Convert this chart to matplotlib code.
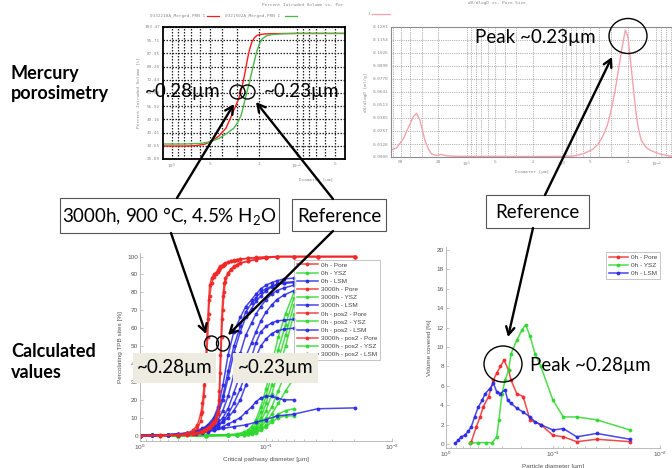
import matplotlib
matplotlib.use("Agg")
import matplotlib.pyplot as plt
from matplotlib.patches import Ellipse, Rectangle
from matplotlib.ticker import FixedLocator, FixedFormatter, NullFormatter

W, H = 672, 468

# ---------------- data: mercury porosimetry, intruded volume ----------------
hg_d_red = [1.18, 0.8, 0.65, 0.55, 0.48, 0.42, 0.37, 0.34, 0.31, 0.29, 0.28, 0.27,
            0.26, 0.25, 0.24, 0.23, 0.22, 0.21, 0.2, 0.18, 0.15, 0.1, 0.0413]
hg_v_red = [33.5, 33.5, 33.7, 34.5, 36.5, 39.5, 44, 50, 57, 62, 66, 71,
            77, 84, 90, 94.5, 97, 98.4, 99, 99.4, 99.6, 99.7, 99.7]
hg_d_green = [1.18, 0.8, 0.6, 0.5, 0.42, 0.36, 0.32, 0.3, 0.28, 0.27, 0.26, 0.25,
              0.24, 0.23, 0.22, 0.21, 0.2, 0.19, 0.175, 0.16, 0.13, 0.1, 0.0413]
hg_v_green = [34.7, 34.7, 35, 35.9, 38, 41.2, 44, 47, 51.5, 56, 61, 66,
              71, 77, 83, 89, 93.5, 96.5, 98.3, 99, 99.5, 99.7, 99.7]
hg_yticks = [25.89, 33.65, 41.41, 49.16, 56.92, 64.68, 72.44, 80.20, 87.95, 95.71, 103.47]
hg_ytick_labels = ["25.89", "33.65", "41.41", "49.16", "56.92", "64.68",
                   "72.44", "80.20", "87.95", "95.71", "103.47"]
hg_xticks = [1, 0.5, 0.2, 0.1, 0.05]
hg_xtick_labels = ["10$^{0}$", "5", "2", "10$^{-1}$", "5"]
hg_names = ["0332210A_Merged.PRN 1", "0321502A_Merged.PRN 1"]

# ---------------- data: mercury porosimetry, dV/dlogD ----------------
psd_d = [63, 55, 50.7, 46, 43.3, 39.5, 36.7, 33.8, 31.3, 29.5, 27.7, 25.5, 23.5, 21,
         18.5, 16.5, 14, 10, 5, 2, 1, 0.77, 0.7, 0.58, 0.47, 0.41, 0.37, 0.33, 0.3,
         0.275, 0.255, 0.238, 0.226, 0.213, 0.2, 0.185, 0.174, 0.164, 0.155, 0.145,
         0.13, 0.118, 0.093, 0.073, 0.05]
psd_v = [0.0069, 0.009, 0.0135, 0.019, 0.0249, 0.033, 0.0397, 0.043, 0.0365, 0.027,
         0.0168, 0.008, 0.003, 0.0015, 0.0025, 0.0012, 0.0008, 0.0006, 0.0006, 0.0005,
         0.0006, 0.0009, 0.0015, 0.0035, 0.0076, 0.013, 0.02, 0.031, 0.0463, 0.064,
         0.0825, 0.1, 0.112, 0.125, 0.1185, 0.089, 0.065, 0.043, 0.028, 0.0168, 0.01,
         0.0069, 0.003, 0.001, 0.0005]
psd_yticks = [0.0, 0.0128, 0.0257, 0.0385, 0.0513, 0.0641, 0.0770, 0.0898, 0.1026, 0.1154, 0.1281]
psd_ytick_labels = ["0.0000", "0.0128", "0.0257", "0.0385", "0.0513", "0.0641",
                    "0.0770", "0.0898", "0.1026", "0.1154", "0.1281"]
psd_xticks = [50, 20, 10, 5, 2, 1, 0.5, 0.2, 0.1, 0.05]
psd_xtick_labels = ["50", "20", "10$^{1}$", "5", "2", "10$^{0}$", "5", "2", "10$^{-1}$", "5"]

# ---------------- data: calculated percolating TPB sites ----------------
calc_d_pore = [1.0, 0.7, 0.5, 0.42, 0.38, 0.35, 0.33, 0.32, 0.31, 0.30, 0.29, 0.285,
               0.28, 0.27, 0.26, 0.25, 0.24, 0.235, 0.23, 0.225, 0.22, 0.215, 0.21,
               0.2, 0.19, 0.18, 0.17, 0.16, 0.14, 0.12, 0.1, 0.082, 0.06, 0.039, 0.0195]
pore_0h = [0, 0, 0.2, 0.5, 1, 1.5, 2.2, 2.7, 3.2, 3.8, 4.5, 5, 5.5, 6.5, 8, 10, 14, 25,
           45, 65, 78, 85, 88, 91, 93, 94.5, 95.5, 96.5, 97.5, 98.5, 99.3, 100, 100, 100, 100]
pore_3000h = [0, 0.2, 0.5, 1.5, 3, 6, 12, 18, 28, 45, 65, 76, 84, 88, 90, 91, 92.5, 93.5,
              94.5, 95, 95.5, 96, 96.5, 97, 97.5, 98, 98.3, 98.6, 99, 99.5, 99.8, 100, 100, 100, 100]
pore_0h_pos2 = [0, 0, 0.1, 0.3, 0.7, 1.2, 1.8, 2.2, 2.7, 3.3, 4, 4.5, 5, 6, 7, 9, 12, 20,
                35, 55, 70, 80, 86, 90, 92.5, 94, 95.3, 96.3, 97.3, 98.3, 99.2, 100, 100, 100, 100]
pore_3000h_pos2 = [0, 0.1, 0.4, 1, 2, 4, 8, 13, 22, 36, 55, 68, 78, 85, 88.5, 90, 91.5,
                   92.5, 93.5, 94.5, 95, 95.5, 96, 96.8, 97.3, 97.8, 98.2, 98.5, 99, 99.4,
                   99.7, 100, 100, 100, 100]

calc_d_lsm = [1.0, 0.8, 0.6, 0.5, 0.42, 0.36, 0.32, 0.29, 0.26, 0.24, 0.22, 0.2, 0.18,
              0.16, 0.145, 0.13, 0.12, 0.11, 0.1, 0.09, 0.082, 0.072, 0.06]
lsm_0h = [0, 0.3, 0.6, 1, 1.5, 2.5, 4, 6, 10, 16, 28, 45, 58, 66, 72, 76, 79, 82, 84, 85.5, 86.5, 87.5, 88]
lsm_3000h = [0, 0.2, 0.5, 0.8, 1.3, 2, 3, 5, 8, 12, 20, 32, 46, 58, 66, 71, 75, 78, 81, 83, 84.5, 85.5, 86]
lsm_0h_pos2 = [0, 0.2, 0.4, 0.7, 1, 1.8, 2.7, 4, 6, 9, 14, 22, 34, 46, 56, 63, 68, 72, 76, 79, 81, 82.5, 84]
lsm_3000h_pos2 = [0, 0.1, 0.3, 0.6, 0.9, 1.5, 2.3, 3.5, 5, 7, 10, 15, 24, 34, 44, 52, 58, 64, 69, 73, 76, 78.5, 81]
lsm_extra_a = [0, 0.1, 0.3, 0.5, 0.8, 1.3, 2, 3, 4.5, 6, 8, 12, 18, 26, 35, 44, 52, 58, 61, 63, 64, 64.5, 65]
lsm_extra_b = [0, 0.1, 0.2, 0.5, 0.8, 1.2, 1.8, 2.8, 4, 5.5, 7.5, 10, 14, 20, 28, 36, 44, 50, 54, 57, 58.5, 59.5, 60]
lsm_extra_c = [0, 0.1, 0.2, 0.4, 0.7, 1, 1.5, 2.2, 3, 4, 5, 6.5, 8, 10, 13, 16, 19, 21, 22, 22, 21, 20, 20]
lsm_extra_d = [0, 0.2, 0.5, 0.9, 1.4, 2.2, 3.5, 5.5, 9, 14, 22, 36, 50, 61, 69, 74, 77, 80, 82, 83.5, 84.5, 85, 85.5]
calc_d_lsm_long = [1.0, 0.6, 0.42, 0.32, 0.26, 0.22, 0.18, 0.145, 0.12, 0.1, 0.082, 0.06, 0.039, 0.0195]
lsm_long = [0, 0.3, 0.8, 2, 3, 4, 5, 6, 7.5, 9, 11, 12, 15, 15.5]

calc_d_ysz = [1.0, 0.5, 0.3, 0.2, 0.17, 0.15, 0.14, 0.13, 0.12, 0.11, 0.1, 0.09, 0.08, 0.07, 0.06]
ysz_0h = [0, 0, 0.2, 0.5, 1, 2, 3, 5, 9, 16, 26, 40, 55, 68, 80]
ysz_3000h = [0, 0, 0.1, 0.3, 0.6, 1.2, 2, 3.5, 7, 13, 22, 34, 48, 62, 77]
ysz_0h_pos2 = [0, 0, 0.1, 0.3, 0.5, 1, 1.6, 2.8, 5, 10, 18, 28, 42, 56, 73]
ysz_3000h_pos2 = [0, 0, 0, 0.2, 0.4, 0.8, 1.3, 2.2, 4, 8, 14, 23, 36, 50, 68]
ysz_extra_a = [0, 0, 0, 0.2, 0.4, 0.7, 1.1, 1.8, 3, 6, 10, 16, 25, 35, 45]
ysz_extra_b = [0, 0, 0, 0.1, 0.3, 0.5, 0.9, 1.5, 2.5, 5, 8, 12, 18, 25, 32]
ysz_extra_c = [0, 0, 0, 0.1, 0.3, 0.5, 0.8, 1.3, 2, 3.5, 6, 9, 12, 14, 15]
ysz_extra_d = [0, 0, 0, 0.1, 0.2, 0.4, 0.7, 1.1, 1.7, 3, 5, 7.5, 10, 11, 11]

# ---------------- data: calculated volume covered ----------------
vol_d_pore = [0.6, 0.58, 0.52, 0.48, 0.45, 0.4, 0.36, 0.336, 0.31, 0.287, 0.26, 0.247,
              0.218, 0.19, 0.164, 0.13, 0.1, 0.08, 0.06, 0.039, 0.019]
vol_pore = [0.1, 0.25, 1.8, 2.8, 3.8, 4.9, 6.6, 7.3, 8.0, 8.66, 7.6, 6.6,
            5.2, 4.9, 2.5, 2.0, 0.9, 0.75, 0.25, 0.5, 0.25]
vol_d_ysz = [0.6, 0.5, 0.42, 0.37, 0.336, 0.32, 0.3, 0.28, 0.26, 0.247, 0.218, 0.195,
             0.18, 0.164, 0.147, 0.13, 0.1, 0.08, 0.06, 0.039, 0.019]
vol_ysz = [0.1, 0.15, 0.15, 0.15, 0.75, 2.5, 5.2, 6.6, 7.6, 9.3, 10.7, 11.75,
           12.3, 11.1, 9.3, 8.0, 4.5, 2.8, 2.8, 2.5, 1.45]
vol_d_lsm = [0.82, 0.77, 0.72, 0.67, 0.62, 0.58, 0.54, 0.5, 0.46, 0.43, 0.39, 0.36,
             0.336, 0.31, 0.28, 0.265, 0.247, 0.218, 0.19, 0.164, 0.147, 0.13, 0.1,
             0.08, 0.06, 0.039, 0.019]
vol_lsm = [0.07, 0.4, 0.75, 0.9, 1.3, 1.8, 2.8, 3.8, 4.5, 5.2, 5.7, 6.25,
           5.4, 5.2, 5.6, 4.5, 4.2, 3.7, 3.3, 2.8, 2.3, 2.0, 1.45,
           1.6, 0.75, 1.1, 0.5]

RED, GREEN, BLUE = "#f02828", "#2ed82e", "#2828e6"
PINK = "#f4a3ad"


def frame(x0, y0, x1, y1):
    # pixel box (top-left origin) -> figure fraction
    return [x0 / W, 1 - y1 / H, (x1 - x0) / W, (y1 - y0) / H]


plt.rcParams['font.family'] = ['Lato', 'DejaVu Sans']
fig = plt.figure(figsize=(W / 100, H / 100), dpi=100)

tiny_mono = dict(family='DejaVu Sans Mono', size=3.2, color='#8a8a8a')
tiny_sans = dict(family='Liberation Sans', size=4.6, color='#555555')

# ---- top left: percent intruded volume ----
ax1 = fig.add_axes(frame(163, 27, 345, 159))
ax1.set_xscale('log')
ax1.plot(hg_d_red, hg_v_red, color='#ff1a1a', lw=1.0)
ax1.plot(hg_d_green, hg_v_green, color='#48b848', lw=1.0)
ax1.set_xlim(1.18, 0.0413)
ax1.set_ylim(hg_yticks[0], hg_yticks[-1])
ax1.yaxis.set_major_locator(FixedLocator(hg_yticks))
ax1.yaxis.set_major_formatter(FixedFormatter(hg_ytick_labels))
ax1.xaxis.set_major_locator(FixedLocator(hg_xticks))
ax1.xaxis.set_major_formatter(FixedFormatter(hg_xtick_labels))
ax1.xaxis.set_minor_formatter(NullFormatter())
ax1.grid(which='both', color='#222222', ls=(0, (1.2, 1.2)), lw=0.9)
ax1.tick_params(which='both', length=0, pad=2)
for lab in ax1.get_xticklabels() + ax1.get_yticklabels():
    lab.set(**tiny_mono)
for sp in ax1.spines.values():
    sp.set_color('black')
    sp.set_linewidth(1.3)
ax1.set_ylabel("Percent Intruded Volume [%]", labelpad=3, **tiny_mono)

# ---- top right: dV/dlogD ----
ax2 = fig.add_axes(frame(391, 27, 685, 157))
ax2.set_xscale('log')
ax2.plot(psd_d, psd_v, color=PINK, lw=1.0)
ax2.set_xlim(63, 0.05)
ax2.set_ylim(psd_yticks[0], psd_yticks[-1])
ax2.yaxis.set_major_locator(FixedLocator(psd_yticks))
ax2.yaxis.set_major_formatter(FixedFormatter(psd_ytick_labels))
ax2.xaxis.set_major_locator(FixedLocator(psd_xticks))
ax2.xaxis.set_major_formatter(FixedFormatter(psd_xtick_labels))
ax2.xaxis.set_minor_formatter(NullFormatter())
ax2.grid(which='both', color='#9a9a9a', ls=(0, (1, 1.2)), lw=0.6)
ax2.tick_params(which='both', length=0, pad=2)
for lab in ax2.get_xticklabels() + ax2.get_yticklabels():
    lab.set(**tiny_mono)
for sp in ax2.spines.values():
    sp.set_color('#8c8c8c')
    sp.set_linewidth(0.8)
ax2.set_ylabel("dV/dlogD [ml/g]", labelpad=3, **tiny_mono)

# ---- bottom left: percolating TPB sites ----
ax3 = fig.add_axes(frame(140, 253, 392, 441))
ax3.set_xscale('log')
mk = dict(marker='.', ms=3.6, lw=1.1, alpha=0.85)
red_sets = [("0h - Pore", pore_0h), ("3000h - Pore", pore_3000h),
            ("0h - pos2 - Pore", pore_0h_pos2), ("3000h - pos2 - Pore", pore_3000h_pos2)]
ysz_sets = [("0h - YSZ", ysz_0h), ("3000h - YSZ", ysz_3000h),
            ("0h - pos2 - YSZ", ysz_0h_pos2), ("3000h - pos2 - YSZ", ysz_3000h_pos2)]
lsm_sets = [("0h - LSM", lsm_0h), ("3000h - LSM", lsm_3000h),
            ("0h - pos2 - LSM", lsm_0h_pos2), ("3000h - pos2 - LSM", lsm_3000h_pos2)]
handles = {}
for name, vals in ysz_sets:
    handles[name] = ax3.plot(calc_d_ysz, vals, color=GREEN, label=name, **mk)[0]
for vals in [ysz_extra_a, ysz_extra_b, ysz_extra_c, ysz_extra_d]:
    ax3.plot(calc_d_ysz, vals, color=GREEN, **mk)
for name, vals in lsm_sets:
    handles[name] = ax3.plot(calc_d_lsm, vals, color=BLUE, label=name, **mk)[0]
for vals in [lsm_extra_a, lsm_extra_b, lsm_extra_c, lsm_extra_d]:
    ax3.plot(calc_d_lsm, vals, color=BLUE, **mk)
ax3.plot(calc_d_lsm_long, lsm_long, color=BLUE, **mk)
for name, vals in red_sets:
    handles[name] = ax3.plot(calc_d_pore, vals, color=RED, label=name, **mk)[0]
order = ["0h - Pore", "0h - YSZ", "0h - LSM", "3000h - Pore", "3000h - YSZ", "3000h - LSM",
         "0h - pos2 - Pore", "0h - pos2 - YSZ", "0h - pos2 - LSM",
         "3000h - pos2 - Pore", "3000h - pos2 - YSZ", "3000h - pos2 - LSM"]
leg = ax3.legend([handles[n] for n in order], order, loc='upper left',
                 bbox_to_anchor=(0.611, 0.965), borderaxespad=0, frameon=True,
                 prop=dict(family='Liberation Sans', size=4.6), labelspacing=0.42,
                 handlelength=3.4, handletextpad=0.5, borderpad=0.4, fancybox=False)
leg.get_frame().set_edgecolor('#9a9a9a')
leg.get_frame().set_linewidth(0.5)
for t in leg.get_texts():
    t.set_color('#444444')
ax3.set_xlim(1, 0.01)
ax3.set_ylim(-3, 102)
ax3.set_yticks(range(0, 101, 10))
ax3.set_xticks([1, 0.1, 0.01])
ax3.xaxis.set_minor_formatter(NullFormatter())
ax3.tick_params(which='both', direction='in', length=2, width=0.4, color='#999999', pad=1.5)
ax3.tick_params(which='minor', length=1.2)
for lab in ax3.get_xticklabels() + ax3.get_yticklabels():
    lab.set(**tiny_sans)
for side in ['top', 'right']:
    ax3.spines[side].set_visible(False)
for side in ['left', 'bottom']:
    ax3.spines[side].set_color('#b0b0b0')
    ax3.spines[side].set_linewidth(0.6)
ax3.set_xlabel("Critical pathway diameter [µm]", labelpad=3, **tiny_sans)
ax3.set_ylabel("Percolating TPB sites [%]", labelpad=3, **tiny_sans)

# ---- bottom right: volume covered ----
ax4 = fig.add_axes(frame(446, 247, 660, 448))
ax4.set_xscale('log')
ax4.plot(vol_d_pore, vol_pore, color=RED, label="0h - Pore", **mk)
ax4.plot(vol_d_ysz, vol_ysz, color=GREEN, label="0h - YSZ", **mk)
ax4.plot(vol_d_lsm, vol_lsm, color=BLUE, label="0h - LSM", **mk)
leg2 = ax4.legend(loc='upper right', bbox_to_anchor=(1.0, 0.975), borderaxespad=0,
                  prop=dict(family='Liberation Sans', size=4.6), labelspacing=0.42,
                  handlelength=3.0, handletextpad=0.5, borderpad=0.4, fancybox=False)
leg2.get_frame().set_edgecolor('#9a9a9a')
leg2.get_frame().set_linewidth(0.5)
for t in leg2.get_texts():
    t.set_color('#444444')
ax4.set_xlim(1, 0.01)
ax4.set_ylim(-0.4, 20.3)
ax4.set_yticks(range(0, 21, 2))
ax4.set_xticks([1, 0.1, 0.01])
ax4.xaxis.set_minor_formatter(NullFormatter())
ax4.tick_params(which='both', direction='in', length=2, width=0.4, color='#999999', pad=1.5)
ax4.tick_params(which='minor', length=1.2)
for lab in ax4.get_xticklabels() + ax4.get_yticklabels():
    lab.set(**tiny_sans)
for side in ['top', 'right']:
    ax4.spines[side].set_visible(False)
for side in ['left', 'bottom']:
    ax4.spines[side].set_color('#b0b0b0')
    ax4.spines[side].set_linewidth(0.6)
ax4.set_xlabel("Particle diameter [µm]", labelpad=3, **tiny_sans)
ax4.set_ylabel("Volume covered [%]", labelpad=3, **tiny_sans)

# ---- overlay in pixel coordinates ----
ov = fig.add_axes([0, 0, 1, 1], zorder=10)
ov.set_xlim(0, W)
ov.set_ylim(H, 0)
ov.axis('off')
ov.patch.set_alpha(0)

# tiny captions of the pasted instrument plots
ov.text(262, 5, "Percent Intruded Volume vs. Por", ha='left', va='center', **tiny_mono)
ov.text(150, 16, hg_names[0], ha='left', va='center', **tiny_mono)
ov.plot([207, 219], [16, 16], color='#ff1a1a', lw=0.9)
ov.text(225, 16, hg_names[1], ha='left', va='center', **tiny_mono)
ov.plot([285, 297], [16, 16], color='#48b848', lw=0.9)
ov.text(316, 179, "Diameter [um]", ha='center', va='center', **tiny_mono)
ov.text(497, 3, "dV/dlogD vs. Pore Size", ha='center', va='center', **tiny_mono)
ov.text(367, 14, "1", ha='left', va='center', **tiny_mono)
ov.plot([372, 390], [14, 14], color=PINK, lw=0.9)
ov.text(532, 172, "Diameter [µm]", ha='center', va='center', **tiny_mono)

# left row labels
big = dict(fontsize=13, fontweight='bold', color='black', ha='left', va='top', linespacing=1.25)
ov.text(11, 65, "Mercury\nporosimetry", **big)
ov.text(11, 343, "Calculated\nvalues", **big)

# annotation text
ann = dict(fontsize=13.5, color='black', va='center')
ov.text(145, 92, "~0.28µm", ha='left', **ann)
ov.text(264, 92, "~0.23µm", ha='left', **ann)
ov.text(535, 38, "Peak ~0.23µm", ha='center', **ann)
ov.text(590, 365, "Peak ~0.28µm", ha='center', **ann)

beige = '#eeece1'
ov.add_patch(Rectangle((133, 353), 83, 30, fc=beige, ec='none', zorder=3))
ov.add_patch(Rectangle((233, 353), 85, 30, fc=beige, ec='none', zorder=3))
ov.text(174.5, 368, "~0.28µm", ha='center', zorder=4, **ann)
ov.text(275.5, 368, "~0.23µm", ha='center', zorder=4, **ann)

boxes = [((60, 198), 219, 35, "3000h, 900 °C, 4.5% H$_\\mathregular{2}$O"),
         ((292, 199), 94, 32, "Reference"),
         ((486, 195), 103, 33, "Reference")]
for (bx, by), bw, bh, label in boxes:
    ov.add_patch(Rectangle((bx, by), bw, bh, fc='white', ec='#555555', lw=0.8, zorder=3))
    ov.text(bx + bw / 2, by + bh / 2 + 1, label, ha='center', zorder=4, **ann)

circles = [(237.5, 92, 15, 14), (247.5, 92, 15, 14), (211.5, 343.5, 14, 15),
           (223, 343.5, 13, 15), (628, 36, 38, 35), (503, 364, 38, 36)]
for cx, cy, cw, ch in circles:
    ov.add_patch(Ellipse((cx, cy), cw, ch, fc='none', ec='black', lw=1.0, zorder=5))

arrows = [((177, 198), (234, 104)), ((333, 199), (256, 102)),
          ((171, 233), (206, 334)), ((333, 231), (228, 335)),
          ((545, 195), (612, 57)), ((533, 228), (508, 337))]
for start, tip in arrows:
    ov.annotate("", xy=tip, xytext=start, zorder=6,
                arrowprops=dict(arrowstyle='->,head_length=0.55,head_width=0.3',
                                color='black', lw=1.7, shrinkA=0, shrinkB=0))

fig.savefig("out.png", dpi=100)
